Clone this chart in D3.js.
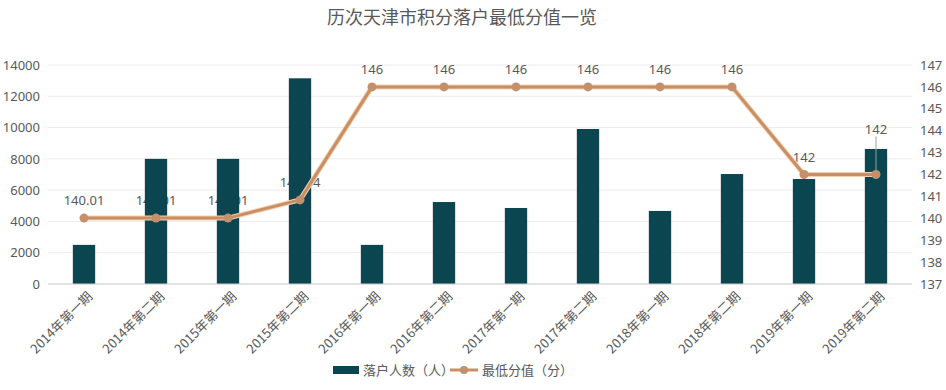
<!DOCTYPE html>
<html><head><meta charset="utf-8">
<script src="https://cdn.jsdelivr.net/npm/d3@7"></script>
<style>
body{margin:0;background:#fff;}
text{font-family:"Noto Sans CJK SC","Noto Sans",sans-serif;}
</style></head>
<body><svg id="c" width="946" height="390"></svg>
<script>
const categories = ["2014年第一期","2014年第二期","2015年第一期","2015年第二期","2016年第一期","2016年第二期","2017年第一期","2017年第二期","2018年第一期","2018年第二期","2019年第一期","2019年第二期"];
const people = [2500, 8000, 8000, 13150, 2500, 5240, 4860, 9910, 4670, 7030, 6710, 8630];
const minScore = [140.01, 140.01, 140.01, 140.84, 146, 146, 146, 146, 146, 146, 142, 142];
const scoreLabels = ["140.01","140.01","140.01","140.84","146","146","146","146","146","146","142","142"];
const leftTicks = [0,2000,4000,6000,8000,10000,12000,14000];
const rightTicks = [137,138,139,140,141,142,143,144,145,146,147];

const svg = d3.select("#c");
const L = 48, R = 912, T = 65, B = 284;
const x = d3.scaleBand().domain(categories).range([L, R]).paddingInner(0.69).paddingOuter(0.345);
const yL = d3.scaleLinear().domain([0,14000]).range([B,T]);
const yR = d3.scaleLinear().domain([137,147]).range([B,T]);
const grey = "#595959";

svg.append("text").attr("x",462).attr("y",24).attr("text-anchor","middle")
  .attr("font-size",18).attr("fill",grey).text("历次天津市积分落户最低分值一览");

// gridlines
svg.append("g").selectAll("line").data(leftTicks.slice(1)).join("line")
  .attr("x1",L).attr("x2",R).attr("y1",d=>yL(d)).attr("y2",d=>yL(d))
  .attr("stroke","#ececec").attr("stroke-width",1);

// left axis
const la = svg.append("g").attr("transform",`translate(${L},0)`)
  .call(d3.axisLeft(yL).tickValues(leftTicks).tickSize(0).tickPadding(8).tickFormat(d3.format("d")));
la.select(".domain").remove();
la.selectAll("text").attr("font-size",13).attr("fill",grey).style("font-family","'Noto Sans','DejaVu Sans',sans-serif");

// right axis
const ra = svg.append("g").attr("transform",`translate(${R},0)`)
  .call(d3.axisRight(yR).tickValues(rightTicks).tickSize(0).tickPadding(8).tickFormat(d3.format("d")));
ra.select(".domain").remove();
ra.selectAll("text").attr("font-size",13).attr("fill",grey).style("font-family","'Noto Sans','DejaVu Sans',sans-serif");

// labels (drawn before bars so bars overlap)
const cx = d => x(d)+x.bandwidth()/2;
const labOff = [0,0,0,0,0,0,0,0,0,0,0,-28];
svg.append("g").selectAll("text").data(categories).join("text")
  .attr("x",d=>cx(d)).attr("y",(d,i)=>yR(minScore[i]) - 13 + labOff[i])
  .attr("text-anchor","middle").attr("font-size",13).attr("fill",grey)
  .style("font-family","'Noto Sans','DejaVu Sans',sans-serif")
  .text((d,i)=>scoreLabels[i]);

// bars
svg.append("g").selectAll("rect").data(categories).join("rect")
  .attr("x",d=>x(d)).attr("width",x.bandwidth())
  .attr("y",(d,i)=>yL(people[i])).attr("height",(d,i)=>B-yL(people[i]))
  .attr("fill","#0b4550");

// bottom axis line
svg.append("line").attr("x1",L).attr("x2",R).attr("y1",B).attr("y2",B).attr("stroke","#c8c8c8");

// leader line for last label
const li = 11;
svg.append("line").attr("x1",cx(categories[li])).attr("x2",cx(categories[li]))
  .attr("y1",yR(minScore[li])-38).attr("y2",yR(minScore[li])-4).attr("stroke","#8aa7ab").attr("stroke-width",1);

// line
const line = d3.line().x((d,i)=>cx(categories[i])).y(d=>yR(d));
svg.append("path").datum(minScore).attr("d",line).attr("fill","none")
  .attr("stroke","#f3cfb0").attr("stroke-width",5).attr("stroke-linejoin","round");
svg.append("path").datum(minScore).attr("d",line).attr("fill","none")
  .attr("stroke","#c98e63").attr("stroke-width",3).attr("stroke-linejoin","round");
svg.append("g").selectAll("circle").data(minScore).join("circle")
  .attr("cx",(d,i)=>cx(categories[i])).attr("cy",d=>yR(d)).attr("r",4.5)
  .attr("fill","#c4906b");

// x labels
svg.append("g").selectAll("text").data(categories).join("text")
  .attr("transform",d=>`translate(${cx(d)+6},${B+10}) rotate(-45)`)
  .attr("text-anchor","end").attr("dy","0.35em").attr("font-size",13).attr("fill",grey)
  .text(d=>d);

// legend
const lg = svg.append("g");
lg.append("rect").attr("x",333).attr("y",366).attr("width",26).attr("height",8).attr("fill","#0b4550");
lg.append("text").attr("x",363).attr("y",375).attr("font-size",13).attr("fill",grey).text("落户人数（人）");
lg.append("line").attr("x1",450).attr("x2",478).attr("y1",370).attr("y2",370).attr("stroke","#c98e63").attr("stroke-width",3);
lg.append("circle").attr("cx",464).attr("cy",370).attr("r",4).attr("fill","#c4906b");
lg.append("text").attr("x",482).attr("y",375).attr("font-size",13).attr("fill",grey).text("最低分值（分）");
</script></body></html>
